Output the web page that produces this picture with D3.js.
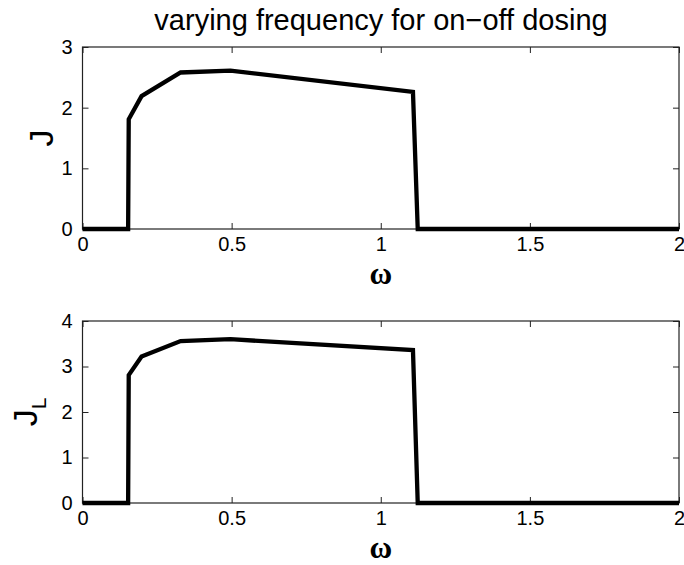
<!DOCTYPE html>
<html><head><meta charset="utf-8">
<script src="https://cdn.jsdelivr.net/npm/d3@7"></script>
<style>
html,body{margin:0;padding:0;background:#fff;}
svg{display:block;}
text{font-family:"Liberation Sans",Arial,Helvetica,sans-serif;fill:#000;}
</style></head>
<body>
<script>
// Data
const omegaJ = [0, 0.153, 0.155, 0.198, 0.329, 0.496, 1.108, 1.124, 2];
const valuesJ = [0, 0, 1.81, 2.19, 2.58, 2.61, 2.26, 0, 0];
const omegaJL = [0, 0.153, 0.155, 0.198, 0.329, 0.496, 1.108, 1.124, 2];
const valuesJL = [0, 0, 2.81, 3.22, 3.56, 3.60, 3.36, 0, 0];
const xTicks = [0, 0.5, 1, 1.5, 2];
const xTickLabels = ["0", "0.5", "1", "1.5", "2"];
const yTicksJ = [0, 1, 2, 3];
const yTicksJL = [0, 1, 2, 3, 4];
const titleText = "varying frequency for on\u2212off dosing";

const W = 684, H = 565;
const svg = d3.select("body").append("svg").attr("width", W).attr("height", H);

const left = 82.5, right = 679;

function panel(top, bottom, xs, ys, yMax, yTicks, yLabel, sub, xLabelY) {
  const x = d3.scaleLinear().domain([0, 2]).range([left, right]);
  const y = d3.scaleLinear().domain([0, yMax]).range([bottom, top]);
  const g = svg.append("g");
  const tl = 6;
  const ax = d3.axisBottom(x).tickValues(xTicks).tickFormat((d, i) => xTickLabels[i]).tickSizeInner(-tl).tickSizeOuter(0).tickPadding(8);
  const gx = g.append("g").attr("transform", `translate(0,${bottom})`).call(ax);
  gx.selectAll("text").style("font-size", "20px").attr("dy", "0.72em");
  const axT = d3.axisTop(x).tickValues(xTicks).tickFormat("").tickSizeInner(-tl).tickSizeOuter(0);
  g.append("g").attr("transform", `translate(0,${top})`).call(axT);
  const ay = d3.axisLeft(y).tickValues(yTicks).tickFormat(d3.format("d")).tickSizeInner(-tl).tickSizeOuter(0).tickPadding(10);
  const gy = g.append("g").attr("transform", `translate(${left},0)`).call(ay);
  gy.selectAll("text").style("font-size", "20px");
  const ayR = d3.axisRight(y).tickValues(yTicks).tickFormat("").tickSizeInner(-tl).tickSizeOuter(0);
  g.append("g").attr("transform", `translate(${right},0)`).call(ayR);
  g.selectAll(".domain").remove();
  g.selectAll(".tick line").attr("stroke", "#222").attr("stroke-width", 1);
  g.append("rect").attr("x", left).attr("y", top).attr("width", right - left).attr("height", bottom - top)
    .attr("fill", "none").attr("stroke", "#222").attr("stroke-width", 1.2);
  const line = d3.line().x((d, i) => x(xs[i])).y(d => y(d));
  g.append("path").datum(ys).attr("d", line).attr("fill", "none").attr("stroke", "#000")
    .attr("stroke-width", 4.3).attr("stroke-linejoin", "miter");
  g.append("text").attr("x", (left + right) / 2).attr("y", xLabelY).attr("text-anchor", "middle")
    .style("font-family", "'Liberation Serif','Times New Roman',serif").style("font-weight", "bold")
    .style("font-size", "31px").text("\u03c9");
  const yl = g.append("text").attr("transform", `translate(${sub ? 37 : 53},${(top + bottom) / 2}) rotate(-90)`)
    .attr("text-anchor", "middle").style("font-size", "34px");
  yl.append("tspan").text(yLabel);
  if (sub) yl.append("tspan").attr("dy", "0.45em").style("font-size", "21px").text(sub);
}

panel(47, 229, omegaJ, valuesJ, 3, yTicksJ, "J", null, 284);
panel(321, 503, omegaJL, valuesJL, 4, yTicksJL, "J", "L", 558);

svg.append("text").attr("x", 381).attr("y", 30).attr("text-anchor", "middle").style("font-size", "29px").text(titleText);
</script>
</body></html>
